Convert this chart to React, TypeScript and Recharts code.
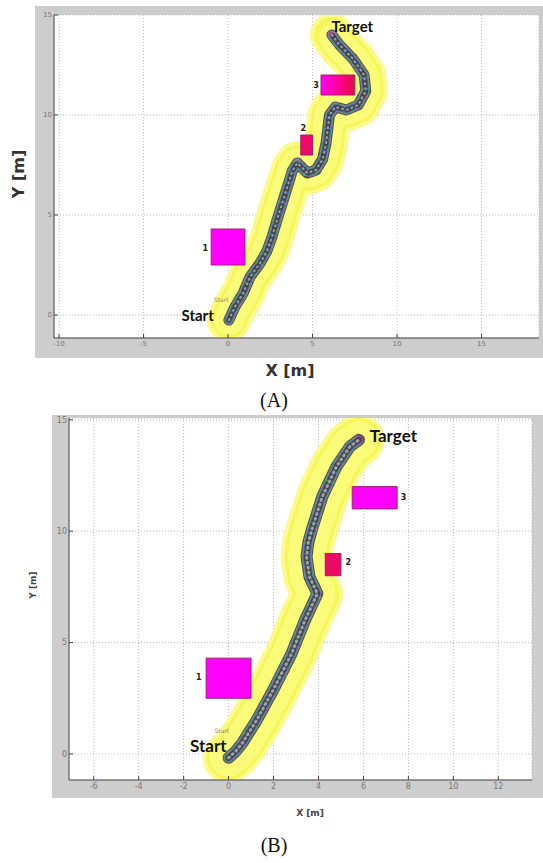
import React from 'react';
import { ComposedChart, Line, Scatter, XAxis, YAxis, CartesianGrid, ReferenceArea } from 'recharts';

// robot path, panel (A)
const pathA = [
  { x: 0.05, y: -0.25 }, { x: 0.4, y: 0.4 }, { x: 0.9, y: 1.1 }, { x: 1.3, y: 1.9 },
  { x: 1.9, y: 2.6 }, { x: 2.3, y: 3.2 }, { x: 2.6, y: 3.9 }, { x: 2.95, y: 4.9 },
  { x: 3.4, y: 6.1 }, { x: 3.8, y: 7.2 }, { x: 4.1, y: 7.6 }, { x: 4.4, y: 7.35 },
  { x: 4.7, y: 7.1 }, { x: 5.2, y: 7.25 }, { x: 5.6, y: 7.8 }, { x: 5.8, y: 8.6 },
  { x: 5.9, y: 9.3 }, { x: 6.0, y: 10.0 }, { x: 6.35, y: 10.4 }, { x: 7.0, y: 10.25 },
  { x: 7.7, y: 10.5 }, { x: 8.15, y: 11.2 }, { x: 8.05, y: 12.0 }, { x: 7.4, y: 12.8 },
  { x: 6.6, y: 13.5 }, { x: 6.15, y: 14.0 },
];

// robot path, panel (B)
const pathB = [
  { x: 0, y: -0.17 }, { x: 0.3, y: 0.1 }, { x: 0.62, y: 0.5 }, { x: 1.24, y: 1.5 },
  { x: 2.0, y: 2.9 }, { x: 2.8, y: 4.5 }, { x: 3.4, y: 6.0 }, { x: 3.95, y: 7.2 },
  { x: 3.6, y: 7.95 }, { x: 3.47, y: 8.85 }, { x: 3.55, y: 9.5 }, { x: 3.7, y: 10.05 },
  { x: 4.17, y: 11.55 }, { x: 4.8, y: 12.9 }, { x: 5.4, y: 13.8 }, { x: 5.8, y: 14.1 },
];

// obstacles (same in both runs)
const obstacles = [
  { id: '1', x1: -1.0, x2: 1.0, y1: 2.5, y2: 4.3 },
  { id: '2', x1: 4.3, x2: 5.0, y1: 8.0, y2: 9.0 },
  { id: '3', x1: 5.5, x2: 7.5, y1: 11.0, y2: 12.0 },
];

const obstacleLabelsA = [
  { x: -1.35, y: 3.35, text: '1' },
  { x: 4.45, y: 9.35, text: '2' },
  { x: 5.2, y: 11.5, text: '3' },
];
const obstacleLabelsB = [
  { x: -1.33, y: 3.45, text: '1' },
  { x: 5.33, y: 8.6, text: '2' },
  { x: 7.78, y: 11.5, text: '3' },
];

const markersA = [
  { x: 7.35, y: 14.45, text: 'Target' },
  { x: -1.8, y: 0.0, text: 'Start' },
];
const markersB = [
  { x: 7.33, y: 14.3, text: 'Target' },
  { x: -0.9, y: 0.4, text: 'Start' },
];

// tiny matlab text labels left on the figure
const smallTagsA = [{ x: -0.4, y: 0.8, text: 'Start' }];
const smallTagsB = [{ x: -0.3, y: 1.05, text: 'Start' }];

const xTicksA = [-10, -5, 0, 5, 10, 15];
const xTicksB = [-6, -4, -2, 0, 2, 4, 6, 8, 10, 12];
const yTicks = [0, 5, 10, 15];

const obstacleFillA = ['#ff00ff', '#ee0a6a', 'url(#obs3A)'];
const obstacleFillB = ['#ff00ff', '#ea0a66', '#ff00ff'];

const NumLabel = (props: any) => {
  const { cx, cy, payload } = props;
  return (
    <text x={cx} y={cy} textAnchor="middle" dominantBaseline="central"
      fontSize={8} fontWeight="bold" fontFamily="DejaVu Sans, sans-serif" fill="#222">
      {payload.text}
    </text>
  );
};

const SmallTag = (props: any) => {
  const { cx, cy, payload } = props;
  return (
    <text x={cx} y={cy} textAnchor="middle" dominantBaseline="central"
      fontSize={6} fontFamily="DejaVu Sans, sans-serif" fill="#8a8a70">
      {payload.text}
    </text>
  );
};

const makeMarker = (size: number) => (props: any) => {
  const { cx, cy, payload } = props;
  return (
    <text x={cx} y={cy} textAnchor="middle" dominantBaseline="central"
      fontSize={size} fontWeight="bold" fontFamily="Lato, sans-serif" fill="#111">
      {payload.text}
    </text>
  );
};

const tickStyle = { fontSize: 7, fill: '#777', fontFamily: 'DejaVu Sans, sans-serif' };

interface PanelProps {
  path: { x: number; y: number }[];
  xDomain: [number, number];
  yDomain: [number, number];
  xTicks: number[];
  labels: { x: number; y: number; text: string }[];
  markers: { x: number; y: number; text: string }[];
  tags: { x: number; y: number; text: string }[];
  fills: string[];
  width: number;
  height: number;
  margin: { top: number; right: number; left: number; bottom: number };
  bandWidth: number;
  pathWidth: number;
  markerSize: number;
  tickFont: number;
}

const Panel: React.FC<PanelProps> = (p) => {
  const ts = { ...tickStyle, fontSize: p.tickFont };
  const lineProps = {
    data: p.path,
    dataKey: 'y',
    type: 'linear' as const,
    dot: false,
    isAnimationActive: false,
    strokeLinecap: 'round' as const,
    strokeLinejoin: 'round' as const,
    legendType: 'none' as const,
  };
  // overlay has hidden axes, so its margin is the plot box itself
  const overlayMargin = {
    top: p.margin.top,
    right: p.margin.right,
    left: p.margin.left + 30,
    bottom: p.margin.bottom + 20,
  };
  const w = p.pathWidth;
  return (
    <div style={{ position: 'relative', width: p.width, height: p.height }}>
      <div style={{ position: 'absolute', left: 0, top: 0 }}>
        <ComposedChart width={p.width} height={p.height} margin={p.margin}>
          <CartesianGrid stroke="#bbb" strokeDasharray="1 2" fill="#fff" />
          <XAxis dataKey="x" type="number" domain={p.xDomain} ticks={p.xTicks} allowDataOverflow
            height={20} tick={ts} tickSize={-4} tickMargin={7} stroke="#444" />
          <XAxis xAxisId="top" orientation="top" dataKey="x" type="number" domain={p.xDomain}
            ticks={p.xTicks} allowDataOverflow height={0} tickSize={-4} tickFormatter={() => ''} stroke="#444" />
          <YAxis dataKey="y" type="number" domain={p.yDomain} ticks={yTicks} allowDataOverflow
            width={30} tick={ts} tickSize={-4} tickMargin={6} stroke="#444" />
          <YAxis yAxisId="right" orientation="right" type="number" domain={p.yDomain} ticks={yTicks}
            allowDataOverflow width={0} tickSize={-4} tickFormatter={() => ''} stroke="#444" />
          {/* yellow safety band */}
          <Line {...lineProps} stroke="#fafa90" strokeWidth={p.bandWidth} />
          <Line {...lineProps} stroke="#f6f658" strokeWidth={p.bandWidth - 8} />
          <Line {...lineProps} stroke="#fbfb7a" strokeWidth={p.bandWidth - 14} strokeDasharray="3 4" />
        </ComposedChart>
      </div>
      <div style={{ position: 'absolute', left: 0, top: 0 }}>
        <ComposedChart width={p.width} height={p.height} margin={overlayMargin}>
          <defs>
            <linearGradient id="obs3A" x1="0" y1="0" x2="1" y2="0">
              <stop offset="0%" stopColor="#ff00f0" />
              <stop offset="55%" stopColor="#ff0090" />
              <stop offset="100%" stopColor="#e01040" />
            </linearGradient>
          </defs>
          <XAxis hide dataKey="x" type="number" domain={p.xDomain} allowDataOverflow />
          <YAxis hide dataKey="y" type="number" domain={p.yDomain} allowDataOverflow />
          {obstacles.map((o, i) => (
            <ReferenceArea key={o.id} x1={o.x1} x2={o.x2} y1={o.y1} y2={o.y2}
              fill={p.fills[i]} fillOpacity={1} stroke="#a02070" strokeWidth={1} ifOverflow="visible" />
          ))}
          {/* textured trajectory */}
          <Line {...lineProps} stroke="#4e4e58" strokeWidth={w} />
          <Line {...lineProps} stroke="#8a8a96" strokeWidth={w - 2} strokeDasharray="2 2 1 4" />
          <Line {...lineProps} stroke="#b04f86" strokeWidth={w - 4} strokeDasharray="1 5 2 6" />
          <Line {...lineProps} stroke="#4c946a" strokeWidth={w - 3} strokeDasharray="1 7 2 4" />
          <Line {...lineProps} stroke="#5565b8" strokeWidth={w - 5} strokeDasharray="2 6 1 3" />
          <Line {...lineProps} stroke="#44444e" strokeWidth={w - 6} strokeDasharray="1 3 2 5" />
          <Line {...lineProps} stroke="#a0a0aa" strokeWidth={w - 9} strokeDasharray="1 4" />
          <Scatter data={p.tags} dataKey="y" shape={SmallTag} isAnimationActive={false} legendType="none" />
          <Scatter data={p.labels} dataKey="y" shape={NumLabel} isAnimationActive={false} legendType="none" />
          <Scatter data={p.markers} dataKey="y" shape={makeMarker(p.markerSize)} isAnimationActive={false} legendType="none" />
        </ComposedChart>
      </div>
    </div>
  );
};

export default function App() {
  return (
    <div style={{ position: 'absolute', left: 0, top: 0, width: 543, height: 863, background: '#fff' }}>
      <svg width={543} height={863} style={{ position: 'absolute', left: 0, top: 0 }}>
        <rect x={35} y={6} width={508} height={352} fill="#cdcdcd" />
        <rect x={52} y={415} width={491} height={383} fill="#cdcdcd" />
        <text x={290} y={370} textAnchor="middle" dominantBaseline="central" fontSize={16}
          fontWeight="bold" fontFamily="DejaVu Sans, sans-serif" fill="#333">X [m]</text>
        <text x={18} y={174} textAnchor="middle" dominantBaseline="central" fontSize={16}
          fontWeight="bold" fontFamily="DejaVu Sans, sans-serif" fill="#333"
          transform="rotate(-90 18 174)">Y [m]</text>
        <text x={274} y={400} textAnchor="middle" dominantBaseline="central" fontSize={20}
          fontFamily="Liberation Serif, serif" fill="#111">(A)</text>
        <text x={310} y={813} textAnchor="middle" dominantBaseline="central" fontSize={9}
          fontWeight="bold" fontFamily="DejaVu Sans, sans-serif" fill="#444">X [m]</text>
        <text x={33} y={585} textAnchor="middle" dominantBaseline="central" fontSize={9}
          fontWeight="bold" fontFamily="DejaVu Sans, sans-serif" fill="#444"
          transform="rotate(-90 33 585)">Y [m]</text>
        <text x={274} y={845} textAnchor="middle" dominantBaseline="central" fontSize={20}
          fontFamily="Liberation Serif, serif" fill="#111">(B)</text>
      </svg>
      <div style={{ position: 'absolute', left: 0, top: 0 }}>
        <Panel path={pathA} xDomain={[-10.3, 18.4]} yDomain={[-1.15, 15]} xTicks={xTicksA}
          labels={obstacleLabelsA} markers={markersA} tags={smallTagsA} fills={obstacleFillA}
          width={543} height={400} margin={{ top: 15, right: 4, left: 24, bottom: 42 }}
          bandWidth={44} pathWidth={11} markerSize={15} tickFont={7} />
      </div>
      <div style={{ position: 'absolute', left: 0, top: 400 }}>
        <Panel path={pathB} xDomain={[-7.1, 13.5]} yDomain={[-1.17, 15.08]} xTicks={xTicksB}
          labels={obstacleLabelsB} markers={markersB} tags={smallTagsB} fills={obstacleFillB}
          width={543} height={463} margin={{ top: 18, right: 11, left: 39, bottom: 63 }}
          bandWidth={52} pathWidth={12} markerSize={17} tickFont={8} />
      </div>
    </div>
  );
}
